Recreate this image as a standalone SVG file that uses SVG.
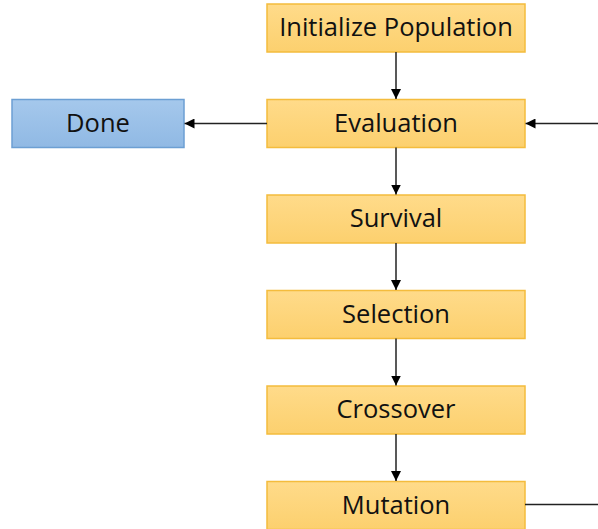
<svg xmlns="http://www.w3.org/2000/svg" width="598" height="529" viewBox="0 0 598 529">
<defs>
<linearGradient id="gy" x1="0" y1="0" x2="0" y2="1">
<stop offset="0" stop-color="#FFDB8A"/>
<stop offset="1" stop-color="#FCD06E"/>
</linearGradient>
<linearGradient id="gb" x1="0" y1="0" x2="0" y2="1">
<stop offset="0" stop-color="#A5C8EC"/>
<stop offset="1" stop-color="#90B9E4"/>
</linearGradient>
<marker id="ah" viewBox="0 0 10 10" refX="10" refY="5" markerWidth="10" markerHeight="10" markerUnits="userSpaceOnUse" orient="auto">
<path d="M0,0 L10,5 L0,10 z" fill="#000"/>
</marker>
<style>
.y{fill:url(#gy);stroke:#F4BC3D;stroke-width:1.5}
.b{fill:url(#gb);stroke:#6C9FD3;stroke-width:1.5}
text{font-family:"Open Sans","Liberation Sans",sans-serif;font-size:25.5px;fill:#111;text-anchor:middle;dominant-baseline:central}
.c{stroke:#222;stroke-width:1.5;fill:none}
</style>
</defs>
<g id="n-init"><rect class="y" x="267" y="4" width="258" height="48"/><text x="396" y="26">Initialize Population</text></g>
<g id="n-eval"><rect class="y" x="267" y="99.5" width="258" height="48"/><text x="396" y="121.5">Evaluation</text></g>
<g id="n-done"><rect class="b" x="12" y="99.5" width="172" height="48"/><text x="98" y="121.5">Done</text></g>
<g id="n-surv"><rect class="y" x="267" y="195" width="258" height="48"/><text x="396" y="217">Survival</text></g>
<g id="n-sel"><rect class="y" x="267" y="290.5" width="258" height="48"/><text x="396" y="312.5">Selection</text></g>
<g id="n-cross"><rect class="y" x="267" y="386" width="258" height="48"/><text x="396" y="408">Crossover</text></g>
<g id="n-mut"><rect class="y" x="267" y="481.5" width="258" height="48"/><text x="396" y="503.5">Mutation</text></g>
<g id="connectors">
<line class="c" x1="396" y1="52" x2="396" y2="99" marker-end="url(#ah)"/>
<line class="c" x1="396" y1="147.5" x2="396" y2="194.5" marker-end="url(#ah)"/>
<line class="c" x1="396" y1="243" x2="396" y2="290" marker-end="url(#ah)"/>
<line class="c" x1="396" y1="338.5" x2="396" y2="385.5" marker-end="url(#ah)"/>
<line class="c" x1="396" y1="434" x2="396" y2="481" marker-end="url(#ah)"/>
<line class="c" x1="267" y1="123.5" x2="184.5" y2="123.5" marker-end="url(#ah)"/>
<line class="c" x1="598" y1="123.5" x2="525.5" y2="123.5" marker-end="url(#ah)"/>
<line class="c" x1="525" y1="504.5" x2="598" y2="504.5"/>
</g>
</svg>
